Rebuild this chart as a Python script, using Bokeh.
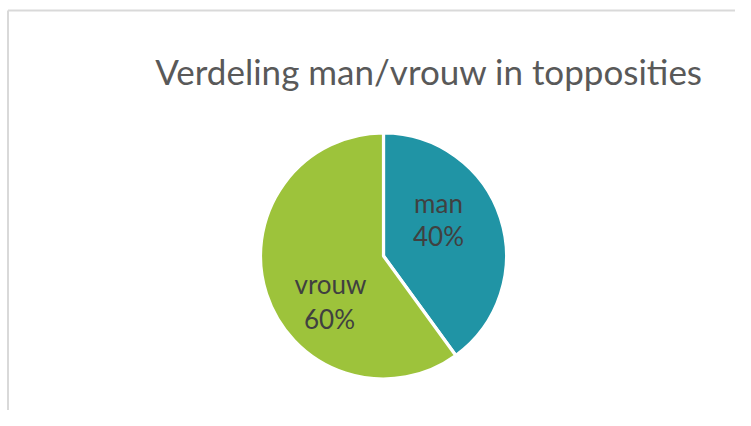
import math
from bokeh.plotting import figure
from bokeh.models import ColumnDataSource, Range1d
from bokeh.core.properties import value
from bokeh.embed import file_html
from bokeh.resources import INLINE

# ---- data ----
title_text = "Verdeling man/vrouw in topposities"
categories = ["man", "vrouw"]
shares = [40, 60]
colors = ["#2094A5", "#9DC33B"]

W, H = 735, 410
p = figure(width=W, height=H, output_backend="svg", toolbar_location=None,
           x_range=Range1d(0, W), y_range=Range1d(0, H), min_border=0)
p.axis.visible = False
p.grid.visible = False
p.outline_line_color = None
p.background_fill_color = "white"
p.border_fill_color = "white"

# chart-area border (light gray, left and top edges)
p.segment(x0=[7.5, 7.5], y0=[400, 400], x1=[W + 5, 7.5], y1=[400, -5],
          line_color="#D9D9D9", line_width=2)

# pie
cx, cy, R = 383, 154.5, 123
total = sum(shares)
starts, ends = [], []
a = math.pi / 2
for s in shares:
    starts.append(a)
    a -= s / total * 2 * math.pi
    ends.append(a)
src = ColumnDataSource(dict(cat=categories, start=starts, end=ends, color=colors,
                            x=[cx] * len(shares), y=[cy] * len(shares)))
p.wedge(x="x", y="y", radius=R, radius_units="screen", start_angle="start",
        end_angle="end", direction="clock", fill_color="color",
        line_color="white", line_width=3.2, source=src)

# labels (name line and percentage line), offsets in screen px from pie centre
name_off = [(55, 53), (-53, -28)]
pct_off = [(55, 20), (-54, -63)]
for i, c in enumerate(categories):
    pct = f"{round(shares[i] / total * 100)}%"
    for txt, (dx, dy) in ((c, name_off[i]), (pct, pct_off[i])):
        p.text(x=[cx], y=[cy], text=[txt], x_offset=dx, y_offset=-dy,
               text_align="center", text_baseline="alphabetic",
               text_font=value("Lato"), text_font_size="26px",
               text_color="#404040")

# title
p.text(x=[428.5], y=[340], text=[title_text], text_align="center",
       text_baseline="alphabetic", text_font=value("Lato"),
       text_font_size="35px", text_color="#595959")

open("out.html", "w").write(file_html(p, INLINE))
